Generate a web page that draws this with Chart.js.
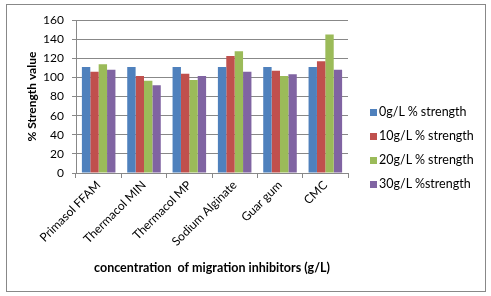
<!DOCTYPE html>
<html>
<head>
<meta charset="utf-8">
<script src="https://cdn.jsdelivr.net/npm/chart.js@4.4.0/dist/chart.umd.min.js"></script>
<style>
  body { margin: 0; background: #fff; font-family: Lato, 'Open Sans', sans-serif; }
  #box { position: absolute; left: 6px; top: 4px; width: 478px; height: 286px; border: 1px solid #888; }
  #legend { position: absolute; left: 370px; top: 100px; font-size: 12.5px; color: #000; }
  .item { height: 24px; line-height: 24px; white-space: nowrap; }
  .sw { display: inline-block; width: 7px; height: 7px; margin-right: 2px; vertical-align: 0px; }
</style>
</head>
<body>
<div id="box"><canvas id="chart" width="478" height="286"></canvas></div>
<div id="legend"></div>
<script>
// categories and series
const categories = ['Primasol FFAM', 'Thermacol MIN', 'Thermacol MP', 'Sodium Alginate', 'Guar gum', 'CMC'];
const seriesNames = ['0g/L % strength', '10g/L % strength', '20g/L % strength', '30g/L %strength'];
const strength0 = [111, 111, 111, 111, 111, 111];
const strength10 = [106, 101.5, 104, 122.5, 107, 117];
const strength20 = [114, 96.5, 97.5, 127.5, 101.5, 145];
const strength30 = [108, 92, 101.5, 106, 103.5, 108];
const colors = ['#4F81BD', '#C0504D', '#9BBB59', '#8064A2'];

const seriesValues = [strength0, strength10, strength20, strength30];

const ctx = document.getElementById('chart');
new Chart(ctx, {
  type: 'bar',
  data: {
    labels: categories,
    datasets: seriesValues.map((vals, i) => ({
      label: seriesNames[i],
      data: vals,
      backgroundColor: colors[i],
      borderWidth: 0,
      categoryPercentage: 0.74,
      barPercentage: 1
    }))
  },
  options: {
    responsive: false,
    animation: false,
    layout: { padding: { top: 13, right: 137, bottom: 0, left: 0 } },
    plugins: {
      legend: { display: false },
      tooltip: { enabled: false }
    },
    scales: {
      x: {
        grid: { drawOnChartArea: false, drawTicks: true, tickLength: 5, color: '#888' },
        border: { color: '#888' },
        ticks: { color: '#000', font: { family: 'Lato', size: 12 }, minRotation: 45, maxRotation: 45, padding: 0 },
        title: {
          display: true,
          text: 'concentration  of migration inhibitors (g/L)',
          color: '#000',
          font: { family: 'Lato', size: 12.5, weight: 'bold' },
          padding: { top: 0, bottom: 16 }
        },
        afterFit: (scale) => { scale.height = 118; }
      },
      y: {
        min: 0,
        max: 160,
        ticks: { stepSize: 20, color: '#000', font: { family: 'Lato', size: 12 }, padding: 8 },
        grid: { color: '#888', tickLength: 4 },
        border: { color: '#888' },
        title: {
          display: true,
          text: '% Strength value',
          color: '#000',
          font: { family: 'Lato', size: 12, weight: 'bold' },
          padding: { top: 18, bottom: 0 }
        },
        afterFit: (scale) => { scale.width = 69; }
      }
    }
  }
});

// legend
const legend = document.getElementById('legend');
seriesNames.forEach((name, i) => {
  const row = document.createElement('div');
  row.className = 'item';
  row.innerHTML = `<span class="sw" style="background:${colors[i]}"></span>${name}`;
  legend.appendChild(row);
});
</script>
</body>
</html>
